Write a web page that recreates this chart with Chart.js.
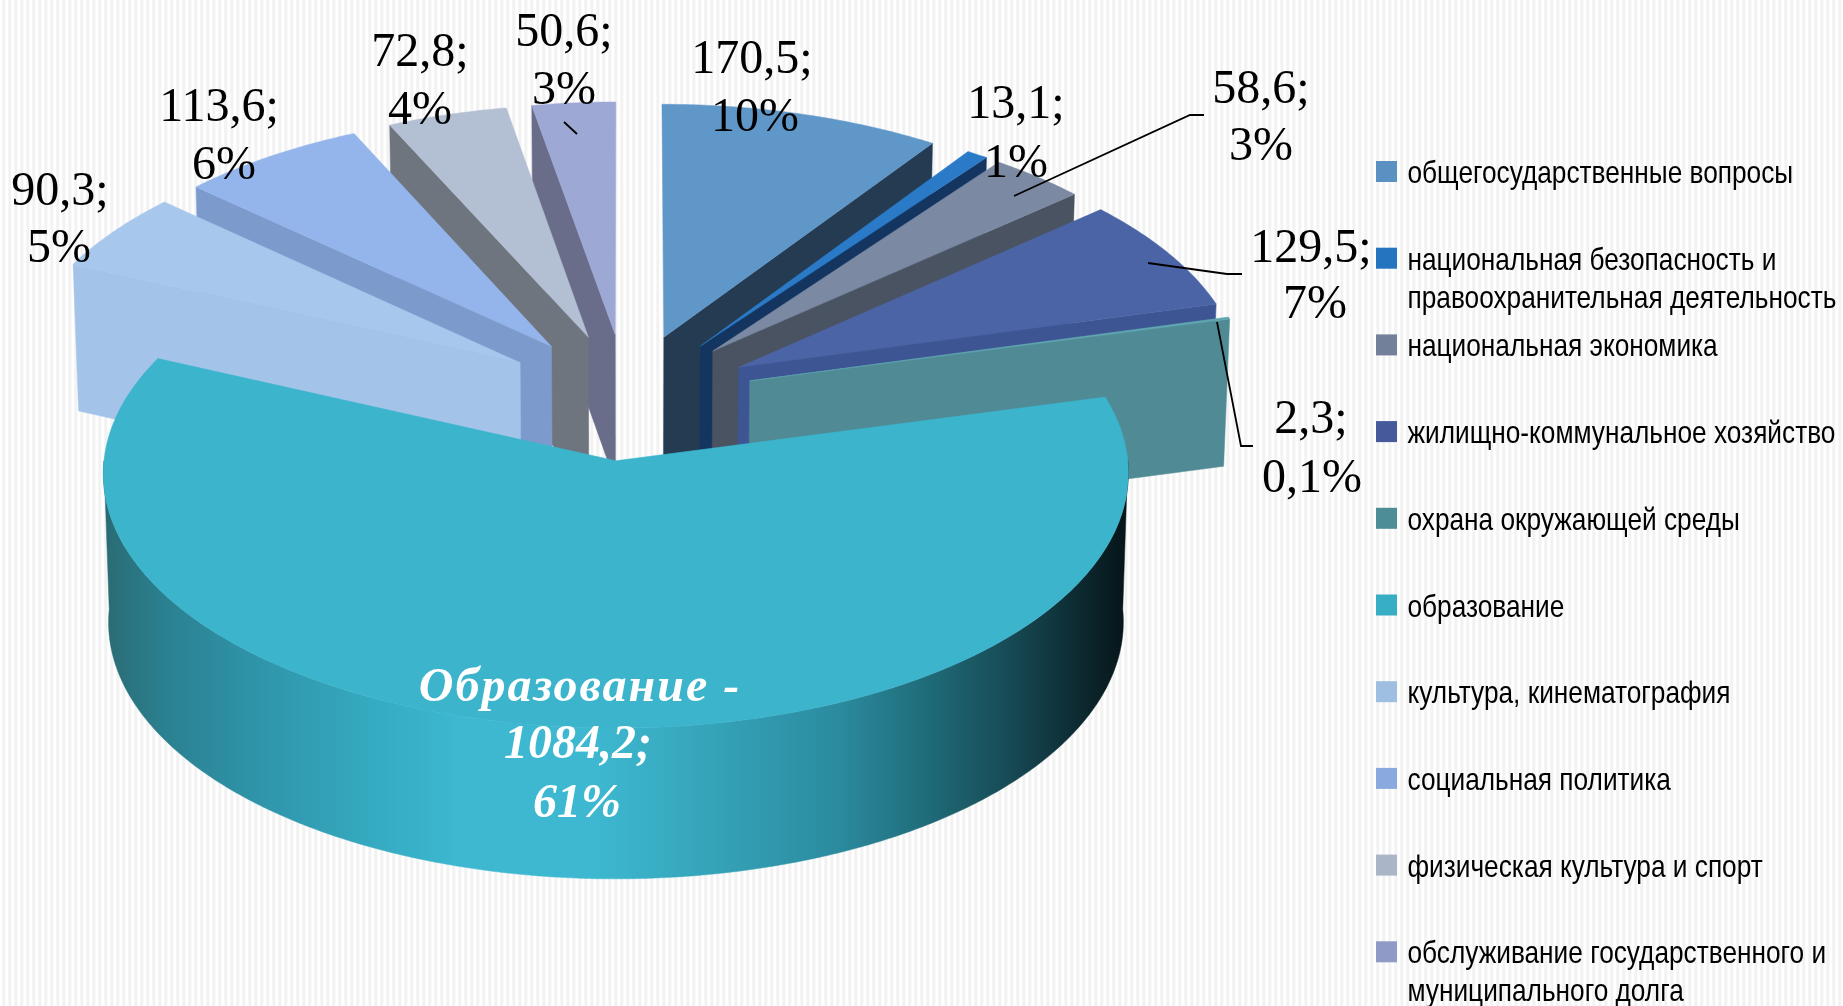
<!DOCTYPE html>
<html lang="ru">
<head>
<meta charset="utf-8">
<title>Расходы бюджета</title>
<script src="https://cdn.jsdelivr.net/npm/chart.js@4"></script>
<style>
  html, body { margin: 0; padding: 0; width: 100%; height: 100%; overflow: hidden; }
  body { background: repeating-linear-gradient(90deg, #ffffff 0, #ffffff 1.5px, #f2f2f2 3px, #f2f2f2 4.5px, #ffffff 6px); }
  #wrap { position: absolute; left: 0; top: 0; width: 1843px; height: 1006px; }
</style>
</head>
<body>
<div id="wrap"><canvas id="budgetChart"></canvas></div>
<script>
// данные
const categories = [
  'общегосударственные вопросы',
  'национальная безопасность и правоохранительная деятельность',
  'национальная экономика',
  'жилищно-коммунальное хозяйство',
  'охрана окружающей среды',
  'образование',
  'культура, кинематография',
  'социальная политика',
  'физическая культура и спорт',
  'обслуживание государственного и муниципального долга'
];
const values = [170.5, 13.1, 58.6, 129.5, 2.3, 1084.2, 90.3, 113.6, 72.8, 50.6];
const percents = ['10%', '1%', '3%', '7%', '0,1%', '61%', '5%', '6%', '4%', '3%'];
const eduTitle = 'Образование -';

// цвета
const topColors = ['#6097c9', '#2a7ac8', '#7b89a3', '#4b64a6', '#5fa6b0', '#3bb4cc', '#a7c7ec', '#94b5ec', '#b3bfd2', '#9da9d4'];
const wallColors = ['#243b52', '#133560', '#4a5361', '#3d5592', '#508a94', '#3bb4cc', '#a3c3e8', '#7c9acc', '#6e757f', '#696d8a'];
const legendColors = ['#5b90c2', '#2474c0', '#72809a', '#45599b', '#4d8d98', '#38aec4', '#9fbfe2', '#8aa9de', '#aab5c8', '#8f9bc6'];

// положение подписей: [центр x, базовая линия] для каждой строки
const labelPos = [
  [[752, 73], [755, 131]], [[1016, 118], [1016, 177]], [[1261, 103], [1261, 160]],
  [[1311, 262], [1315, 318]], [[1311, 433], [1312, 492]], null,
  [[60, 205], [59, 262]], [[219, 121], [224, 179]], [[420, 66], [420, 124]], [[564, 46], [564, 104]]
];
const leaders = [
  [[1204, 115], [1190, 115], [1014, 196]],
  [[1148, 263], [1227, 274], [1242, 274]],
  [[1217, 322], [1241, 446], [1253, 446]],
  [[564, 122], [577, 134]]
];

// проекция круга в 3D
const cx = 626.5, cy = 397, ry = 250, explode = 0.253, depth = 148;

function project(arc, u, v, h) {
  const rx = arc.outerRadius * 1.005;
  const x = cx + rx * u * (1 + 0.05 * v) * (1 - 0.01 * h);
  const y = cy + ry * v * (1 + 0.046 * v) + depth * h * (1 + 0.015 * v);
  return [x, y];
}

function slicePoint(arc, angle, h, r) {
  const mid = (arc.startAngle + arc.endAngle) / 2;
  const u = Math.cos(mid) * explode + Math.cos(angle) * r;
  const v = Math.sin(mid) * explode + Math.sin(angle) * r;
  return project(arc, u, v, h);
}

function polygon(ctx, pts, fill) {
  ctx.beginPath();
  pts.forEach((p, i) => (i ? ctx.lineTo(p[0], p[1]) : ctx.moveTo(p[0], p[1])));
  ctx.closePath();
  ctx.fillStyle = fill;
  ctx.strokeStyle = fill;
  ctx.lineWidth = 0.5;
  ctx.fill();
  ctx.stroke();
}

function rimPoints(arc, a0, a1, h) {
  const pts = [];
  const n = Math.max(2, Math.ceil((a1 - a0) / 0.01));
  for (let i = 0; i <= n; i++) pts.push(slicePoint(arc, a0 + (a1 - a0) * i / n, h, 1));
  return pts;
}

function drawSlice(ctx, arc, i) {
  const a0 = arc.startAngle, a1 = arc.endAngle;
  // 0 вверху, по часовой: угол от верхней точки
  const start = a0 + Math.PI / 2, end = a1 + Math.PI / 2;

  // внешняя стенка, только передняя часть
  const from = Math.max(a0, 0), to = Math.min(a1, Math.PI);
  if (to > from) {
    const grad = ctx.createLinearGradient(102, 0, 1128, 0);
    wallStops.forEach(s => grad.addColorStop(s[0], s[1]));
    polygon(ctx, rimPoints(arc, from, to, 0).concat(rimPoints(arc, from, to, 1).reverse()), grad);
  }
  // срезы
  if (end < Math.PI) {
    polygon(ctx, [slicePoint(arc, a1, 0, 0), slicePoint(arc, a1, 0, 1), slicePoint(arc, a1, 1, 1), slicePoint(arc, a1, 1, 0)], wallColors[i]);
  }
  if (start > Math.PI) {
    polygon(ctx, [slicePoint(arc, a0, 0, 0), slicePoint(arc, a0, 0, 1), slicePoint(arc, a0, 1, 1), slicePoint(arc, a0, 1, 0)], wallColors[i]);
  }
  // верхняя грань
  polygon(ctx, [slicePoint(arc, a0, 0, 0)].concat(rimPoints(arc, a0, a1, 0)), topColors[i]);
}

const wallStops = [
  [0.00, '#2a6a73'], [0.06, '#2a808f'], [0.145, '#2f93a8'], [0.28, '#36adc4'], [0.35, '#3db8d0'],
  [0.48, '#3db8d0'], [0.58, '#36a6bc'], [0.72, '#2b8a9e'], [0.805, '#1f6b78'], [0.885, '#174a55'],
  [0.952, '#0d2a31'], [1.00, '#061417']
];

function drawLabels(ctx) {
  ctx.save();
  ctx.textAlign = 'center';
  ctx.textBaseline = 'alphabetic';
  ctx.fillStyle = '#000';
  ctx.font = '48px "Liberation Serif"';
  values.forEach((val, i) => {
    if (!labelPos[i]) return;
    const text = [String(val).replace('.', ',') + ';', percents[i]];
    text.forEach((t, k) => ctx.fillText(t, labelPos[i][k][0], labelPos[i][k][1]));
  });
  ctx.fillStyle = '#fff';
  ctx.font = 'italic bold 48px "Liberation Serif"';
  ctx.letterSpacing = '2px';
  ctx.fillText(eduTitle, 580, 701);
  ctx.letterSpacing = '0px';
  ctx.fillText(String(values[5]).replace('.', ',') + ';', 578, 758);
  ctx.fillText(percents[5], 577, 817);

  ctx.strokeStyle = '#000';
  ctx.lineWidth = 1.8;
  leaders.forEach(line => {
    ctx.beginPath();
    line.forEach((p, i) => (i ? ctx.lineTo(p[0], p[1]) : ctx.moveTo(p[0], p[1])));
    ctx.stroke();
  });
  ctx.restore();
}

function drawLegend(ctx) {
  const x = 1376, textX = 1407.5, y0 = 161, step = 86.7, maxW = 440, narrow = 0.82;
  ctx.save();
  ctx.font = '32px "Liberation Sans"';
  ctx.textAlign = 'left';
  ctx.textBaseline = 'alphabetic';
  categories.forEach((name, i) => {
    const y = y0 + step * i;
    ctx.fillStyle = legendColors[i];
    ctx.fillRect(x, y, 21, 21);
    ctx.fillStyle = '#000';
    // перенос длинных подписей
    const lines = [];
    let cur = '';
    name.split(' ').forEach(w => {
      const next = cur ? cur + ' ' + w : w;
      if (ctx.measureText(next).width * narrow > maxW && cur) { lines.push(cur); cur = w; } else { cur = next; }
    });
    lines.push(cur);
    lines.forEach((t, k) => {
      ctx.save();
      ctx.translate(textX, y + 22 + k * 38);
      ctx.scale(narrow, 1);
      ctx.fillText(t, 0, 0);
      ctx.restore();
    });
  });
  ctx.restore();
}

const pie3d = {
  id: 'pie3d',
  beforeDatasetsDraw(chart) {
    const ctx = chart.ctx;
    const arcs = chart.getDatasetMeta(0).data;
    // порядок рисования: от дальних к ближним
    [0, 1, 2, 3, 4, 9, 8, 7, 6, 5].forEach(i => drawSlice(ctx, arcs[i], i));
    drawLabels(ctx);
    drawLegend(ctx);
    return false;
  }
};

new Chart(document.getElementById('budgetChart'), {
  type: 'pie',
  data: {
    labels: categories,
    datasets: [{ data: values, backgroundColor: topColors, borderWidth: 0 }]
  },
  options: {
    responsive: true,
    maintainAspectRatio: false,
    animation: false,
    layout: { padding: 0 },
    plugins: { legend: { display: false }, tooltip: { enabled: false } }
  },
  plugins: [pie3d]
});
</script>
</body>
</html>
